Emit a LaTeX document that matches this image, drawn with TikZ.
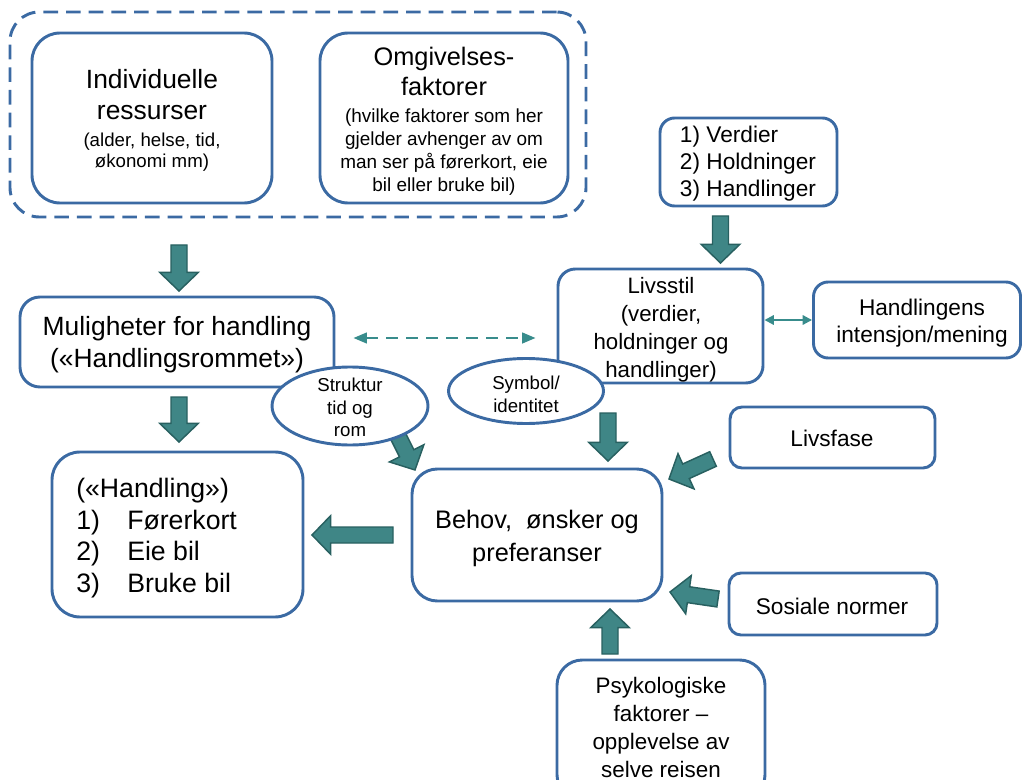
\documentclass[tikz,border=0pt]{standalone}
\usepackage{fontspec}
\setmainfont{Liberation Sans}
\usetikzlibrary{calc,arrows.meta,shapes.geometric}
\definecolor{boxblue}{RGB}{59,106,163}
\definecolor{tealfill}{RGB}{63,134,134}
\definecolor{tealdark}{RGB}{40,96,96}
\definecolor{tealline}{RGB}{56,140,140}
\newcommand\fsz[2]{\fontsize{#1}{#2}\selectfont}
\newcommand\blockarrow[2]{%
  \path[barrow] let \p1=($(#2)-(#1)$), \n1={veclen(\x1,\y1)}, \n2={atan2(\y1,\x1)} in
    {[shift={(#1)},rotate=\n2]
     (0pt,6pt) -- ({\n1-14pt},6pt) -- ({\n1-14pt},14.5pt) -- (\n1,0pt)
     -- ({\n1-14pt},-14.5pt) -- ({\n1-14pt},-6pt) -- (0pt,-6pt) -- cycle};
}
\begin{document}
\begin{tikzpicture}[x=0.75pt,y=-0.75pt,
  box/.style={draw=boxblue, line width=2.2pt, fill=white, rectangle, inner sep=0pt},
  ell/.style={draw=boxblue, line width=2.2pt, fill=white, ellipse, inner sep=0pt},
  txt/.style={align=center, inner sep=0pt},
  barrow/.style={fill=tealfill, draw=tealdark, line width=1.1pt, line join=miter},
  dasharr/.style={draw=tealline, line width=1.5pt, dash pattern=on 9pt off 6pt,
     {Triangle[length=10pt,width=8pt]}-{Triangle[length=10pt,width=8pt]}},
  smallarr/.style={draw=tealline, line width=1.5pt,
     {Triangle[length=7pt,width=7pt]}-{Triangle[length=7pt,width=7pt]}}]
\useasboundingbox (0,0) rectangle (1023,780);

% block arrows
\coordinate (a1t) at (179,245); \coordinate (a1h) at (179,291);
\coordinate (a2t) at (179,397); \coordinate (a2h) at (179,442);
\coordinate (a3t) at (720.5,216); \coordinate (a3h) at (720.5,263);
\coordinate (a4t) at (608,413); \coordinate (a4h) at (608,461);
\coordinate (a5t) at (393,535); \coordinate (a5h) at (312,535);
\coordinate (a6t) at (390,420); \coordinate (a6h) at (415,470);
\coordinate (a7t) at (713,459); \coordinate (a7h) at (669,479);
\coordinate (a8t) at (718,599); \coordinate (a8h) at (670,592);
\coordinate (a9t) at (610,654); \coordinate (a9h) at (610,609);
\blockarrow{a1t}{a1h}
\blockarrow{a2t}{a2h}
\blockarrow{a3t}{a3h}
\blockarrow{a4t}{a4h}
\blockarrow{a5t}{a5h}
\blockarrow{a6t}{a6h}
\blockarrow{a7t}{a7h}
\blockarrow{a8t}{a8h}
\blockarrow{a9t}{a9h}

% group frame
\node[box, fill=none, minimum width=432pt, minimum height=153.75pt, rounded corners=22pt,
      dash pattern=on 11pt off 6pt] (grp) at (298,114.5) {};

\node[box, minimum width=180pt, minimum height=127.5pt, rounded corners=21pt] (ind) at (152,118) {};
\node[txt, font=\fsz{19.8}{23.3}] (indtxt) at (152,120)
  {Individuelle\\ressurser\\[-3pt]\fsz{14}{16}(alder, helse, tid,\\[-7.5pt]\fsz{14}{16}økonomi mm)};

\node[box, minimum width=186pt, minimum height=127.5pt, rounded corners=21pt] (omg) at (444,118) {};
\node[txt, font=\fsz{19}{22.5}] (omgtxt) at (444,121)
  {Omgivelses-\\faktorer\\[-2.25pt]\fsz{14.2}{17}(hvilke faktorer som her\\[-5.25pt]\fsz{14.2}{17}gjelder avhenger av om\\[-5.25pt]\fsz{14.2}{17}man ser på førerkort, eie\\[-5.25pt]\fsz{14.2}{17}bil eller bruke bil)};

\node[box, minimum width=132.75pt, minimum height=66pt, rounded corners=11pt] (verd) at (748.5,162) {};
\node[txt, align=left, font=\fsz{17}{20.3}] (verdtxt) at (748,164) {1) Verdier\\2) Holdninger\\3) Handlinger};

\node[box, minimum width=235.5pt, minimum height=67.5pt, rounded corners=15pt] (mul) at (177,342) {};
\node[txt, font=\fsz{19.8}{24}] (multxt) at (177,345) {Muligheter for handling\\(«Handlingsrommet»)};

\node[box, minimum width=153.75pt, minimum height=85.5pt, rounded corners=13pt] (livs) at (660.5,326) {};
\node[txt, font=\fsz{16.7}{21}] (livstxt) at (661,330) {Livsstil\\(verdier,\\holdninger og\\handlinger)};

\node[box, minimum width=155.25pt, minimum height=57pt, rounded corners=11pt] (hint) at (917,320) {};
\node[txt, font=\fsz{17}{20.3}] (hinttxt) at (922,323.5) {Handlingens\\intensjon/mening};

\node[box, minimum width=188.25pt, minimum height=123.75pt, rounded corners=21pt] (hand) at (177.5,534.5) {};
\node[txt, align=left, anchor=west, font=\fsz{20}{23.8}] (handtxt) at (76,538)
  {(«Handling»)\\\makebox[38.25pt][l]{1)}Førerkort\\\makebox[38.25pt][l]{2)}Eie bil\\\makebox[38.25pt][l]{3)}Bruke bil};

\node[box, minimum width=187.5pt, minimum height=99pt, rounded corners=19pt] (beh) at (537,535) {};
\node[txt, font=\fsz{19}{24.8}] (behtxt) at (537,538.5) {Behov,\ \ ønsker og\\preferanser};

\node[box, minimum width=153.75pt, minimum height=45.75pt, rounded corners=9pt] (livf) at (832.5,437.5) {};
\node[txt, font=\fsz{17}{20.3}] (livftxt) at (832,438) {Livsfase};

\node[box, minimum width=156pt, minimum height=46.5pt, rounded corners=9pt] (sos) at (833,604) {};
\node[txt, font=\fsz{17}{20.3}] (sostxt) at (832,606) {Sosiale normer};

\node[box, minimum width=156pt, minimum height=105pt, rounded corners=19pt] (psy) at (661,730) {};
\node[txt, font=\fsz{16.8}{21}] (psytxt) at (661,727) {Psykologiske\\faktorer –\\opplevelse av\\selve reisen};

% ellipses
\node[ell, minimum width=117pt, minimum height=58.5pt] (struk) at (350,406) {};
\node[txt, font=\fsz{14}{17}] (struktxt) at (350,407.5) {Struktur\\tid og\\rom};
\node[ell, minimum width=116.25pt, minimum height=48.75pt] (sym) at (526,391) {};
\node[txt, font=\fsz{14}{17}] (symtxt) at (526,394) {Symbol/\\identitet};

% connectors
\draw[dasharr] ($(mul.east)+(18,-4)$) -- ($(livs.west |- mul.east)+(-21,-4)$);
\draw[smallarr] (livs.east |- hint.west) -- (hint.west);
\end{tikzpicture}
\end{document}
